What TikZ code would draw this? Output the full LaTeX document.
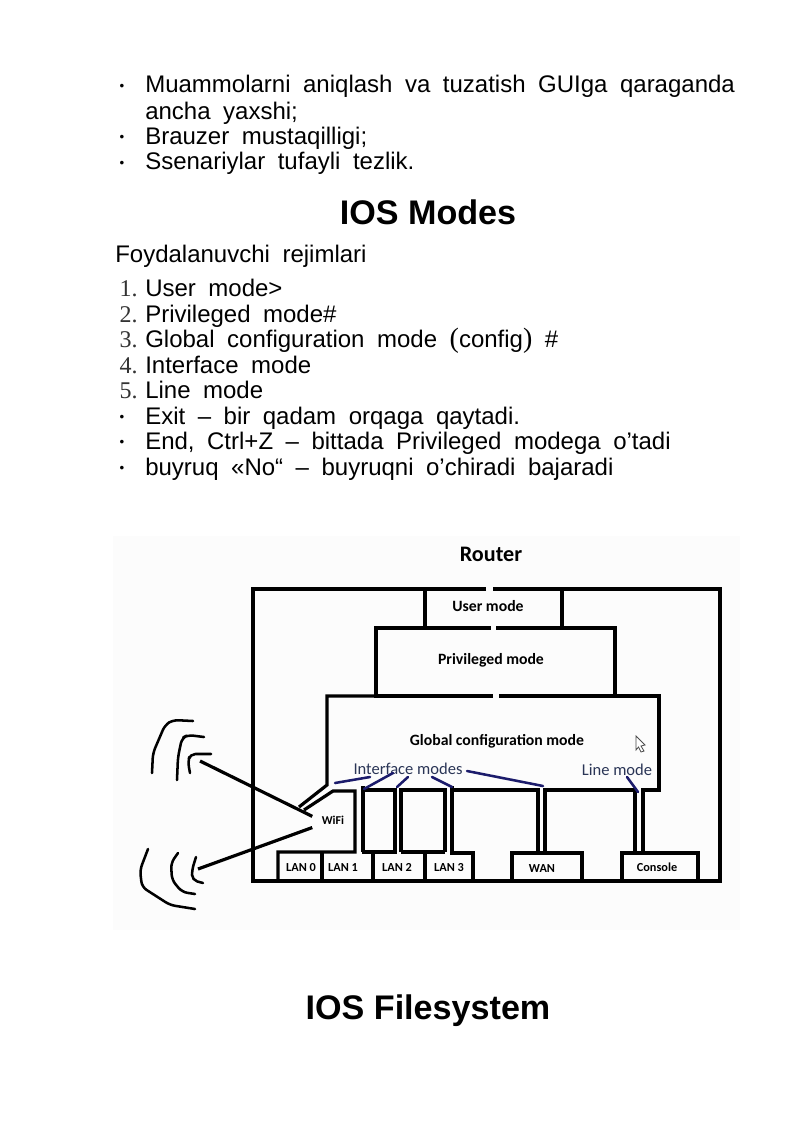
\documentclass[tikz,border=0pt]{standalone}
\usepackage{fontspec}
\setmainfont{Liberation Sans}
\newfontfamily\numfont{Liberation Serif}
\newfontfamily\labelfont{Carlito}
\definecolor{modeblue}{HTML}{1B1B6B}
\definecolor{modetext}{HTML}{2A3556}
\definecolor{scanbg}{HTML}{FCFCFC}
\newcommand{\bodyfont}{\fontsize{18}{20}\selectfont\spaceskip=9.4pt\relax}
\newcommand{\parenfont}{\numfont\fontsize{21}{22}\selectfont}

\begin{document}
\begin{tikzpicture}[x=0.75pt,y=-0.75pt]
	%defines
	\tikzstyle{bodyline} = [anchor=base west, inner sep=0pt, font=\bodyfont]
	\tikzstyle{numline} = [anchor=base east, inner sep=0pt, font=\numfont\fontsize{18}{20}\selectfont, text=black!80]
	\tikzstyle{dotline} = [anchor=center, inner sep=0pt, font=\fontsize{10}{10}\selectfont]
	\tikzstyle{heading} = [anchor=base, inner sep=0pt, font=\bfseries\fontsize{25.6}{28}\selectfont]
	\tikzstyle{boxlabel} = [inner sep=0pt, font=\labelfont\bfseries\fontsize{11.8}{13}\selectfont]
	\tikzstyle{portlabel} = [anchor=base, inner sep=0pt, font=\labelfont\bfseries\fontsize{9.2}{11}\selectfont]
	\tikzstyle{modelabel} = [inner sep=0pt, text=modetext, font=\labelfont\fontsize{12.4}{14}\selectfont]
	\tikzstyle{wall} = [line width=2.4pt, line join=miter]
	\tikzstyle{arc} = [line width=1.9pt, line cap=round, line join=round, rounded corners=4pt]
	\tikzstyle{modeline} = [line width=1.9pt, modeblue, line cap=round]
	\useasboundingbox (0,0) rectangle (800,1131);
	\fill [white] (0,0) rectangle (800,1131);
	%text above
	\node (dotA) [dotline] at (122,87) {•};
	\node (lineA) [bodyline] at (145,93) {Muammolarni aniqlash va tuzatish GUIga qaraganda};
	\node (lineAb) [bodyline] at (145,119) {ancha yaxshi;};
	\node (dotB) [dotline] at (122,138) {•};
	\node (lineB) [bodyline] at (145,144) {Brauzer mustaqilligi;};
	\node (dotC) [dotline] at (122,164) {•};
	\node (lineC) [bodyline] at (145,169) {Ssenariylar tufayli tezlik.};
	\node (modesTitle) [heading] at (428,224) {IOS Modes};
	\node (userModes) [bodyline] at (115,262) {Foydalanuvchi rejimlari};
	\node (numA) [numline] at (138,296) {1.};
	\node (itemA) [bodyline] at (145,296) {User mode>};
	\node (numB) [numline] at (138,322) {2.};
	\node (itemB) [bodyline] at (145,322) {Privileged mode\#};
	\node (numC) [numline] at (138,347) {3.};
	\node (itemC) [bodyline] at (145,347) {Global configuration mode {\parenfont(}config{\parenfont)} \#};
	\node (numD) [numline] at (138,373) {4.};
	\node (itemD) [bodyline] at (145,373) {Interface mode};
	\node (numE) [numline] at (138,398) {5.};
	\node (itemE) [bodyline] at (145,398) {Line mode};
	\node (dotD) [dotline] at (122,418) {•};
	\node (itemF) [bodyline] at (145,424) {Exit -- bir qadam orqaga qaytadi.};
	\node (dotE) [dotline] at (122,443) {•};
	\node (itemG) [bodyline] at (145,449) {End, Ctrl+Z -- bittada Privileged modega o’tadi};
	\node (dotF) [dotline] at (122,469) {•};
	\node (itemH) [bodyline] at (145,475) {buyruq «No“ -- buyruqni o’chiradi bajaradi};
	%router picture
	\fill [scanbg] (113,536) rectangle (740,930);
	\node (router) [boxlabel, font=\labelfont\bfseries\fontsize{16.6}{18}\selectfont] at (491,554) {Router};
	\draw [wall] (486,589) -| (253,881) -- (720,881) |- (493,589);
	\draw [wall] (425,589) |- (491,628);
	\draw [wall] (562,589) |- (496,628);
	\draw [wall] (425,628) -| (376,696) -- (493,696);
	\draw [wall] (562,628) -| (615,696) -- (499,696);
	\draw [wall] (376,696) -| (327,785) -- (299,807);
	\draw [wall] (615,696) -| (659,790) -- (643,790) -- (643,852);
	\draw [wall] (304,810) -- (333,791) -- (355,791) -- (355,852) -| (278,881);
	\draw [wall] (322,852) -- (322,881);
	\draw [wall] (373,852) -- (373,881);
	\draw [wall] (363,852) -- (363,786);
	\draw [wall] (361.8,790) -- (395,790) -- (395,852) -- (361.8,852);
	\draw [wall] (401,852) |- (445,790) -- (445,852);
	\draw [wall] (401,852) -| (425,881);
	\draw [wall] (445,852) -| (425,881);
	\draw [wall] (452,786) -- (452,853) -| (473,881);
	\draw [wall] (452,790) -| (538,852);
	\draw [wall] (512,881) |- (582,853) -- (582,881);
	\draw [wall] (545,853) |- (635,790) -- (635,853);
	\draw [wall] (622,881) |- (698,853) -- (698,881);
	\node (userBox) [boxlabel] at (488,606) {User mode};
	\node (privBox) [boxlabel] at (491,660) {Privileged mode};
	\node (globalBox) [boxlabel] at (497,741) {Global configuration mode};
	\node (ifModes) [modelabel] at (408,769) {Interface modes};
	\node (lineModes) [modelabel] at (617,770) {Line mode};
	\node (wifi) [boxlabel, font=\labelfont\bfseries\fontsize{9}{11}\selectfont, inner xsep=7pt, inner ysep=7pt] at (333,820) {WiFi};
	\node (lan0) [portlabel] at (301,871) {LAN 0};
	\node (lan1) [portlabel] at (343,871) {LAN 1};
	\node (lan2) [portlabel] at (397,871) {LAN 2};
	\node (lan3) [portlabel] at (449,871) {LAN 3};
	\node (wan) [portlabel] at (542,872) {WAN};
	\node (console) [portlabel] at (657,871) {Console};
	%antennas
	\coordinate (antUp) at (200,761);
	\coordinate (antDown) at (198,869);
	\draw [wall] (antUp) -- (wifi.170);
	\draw [wall] (antDown) -- (wifi.200);
	\draw [arc] (152,773) -- (153,753) -- (165,725) -- (173,720) -- (193,721);
	\draw [arc] (177,780) -- (178,757) -- (182,738) -- (188,735) -- (204,737);
	\draw [arc] (190,773) -- (188,762) -- (190,754) -- (211,754);
	\draw [arc] (148,849) -- (140,870) -- (142,887) -- (170,905) -- (195,909);
	\draw [arc] (178,853) -- (171,863) -- (172,880) -- (182,892) -- (195,894);
	\draw [arc] (196,857) -- (192,870) -- (192,880) -- (203,883);
	%blue strokes
	\coordinate (ifA) at (335,783);
	\coordinate (ifAb) at (370,777);
	\coordinate (ifB) at (364,789);
	\coordinate (ifBb) at (393,773);
	\coordinate (ifC) at (397,787);
	\coordinate (ifCb) at (408,777);
	\coordinate (ifD) at (432,777);
	\coordinate (ifDb) at (452,787);
	\coordinate (ifE) at (467,771);
	\coordinate (ifEb) at (543,786);
	\coordinate (lineStroke) at (627,777);
	\coordinate (lineStrokeb) at (638,792);
	\draw [modeline] (ifA) -- (ifAb);
	\draw [modeline] (ifB) -- (ifBb);
	\draw [modeline] (ifC) -- (ifCb);
	\draw [modeline] (ifD) -- (ifDb);
	\draw [modeline] (ifE) -- (ifEb);
	\draw [modeline] (lineStroke) -- (lineStrokeb);
	%cursor
	\draw [black!70, line width=0.6pt, fill=white] (636,736) -- (645,745) -- (641,746) -- (644,751) -- (641,752) -- (638.5,747) -- (636,750) -- cycle;
	%text below
	\node (filesTitle) [heading] at (428,1019) {IOS Filesystem};
\end{tikzpicture}
\end{document}
